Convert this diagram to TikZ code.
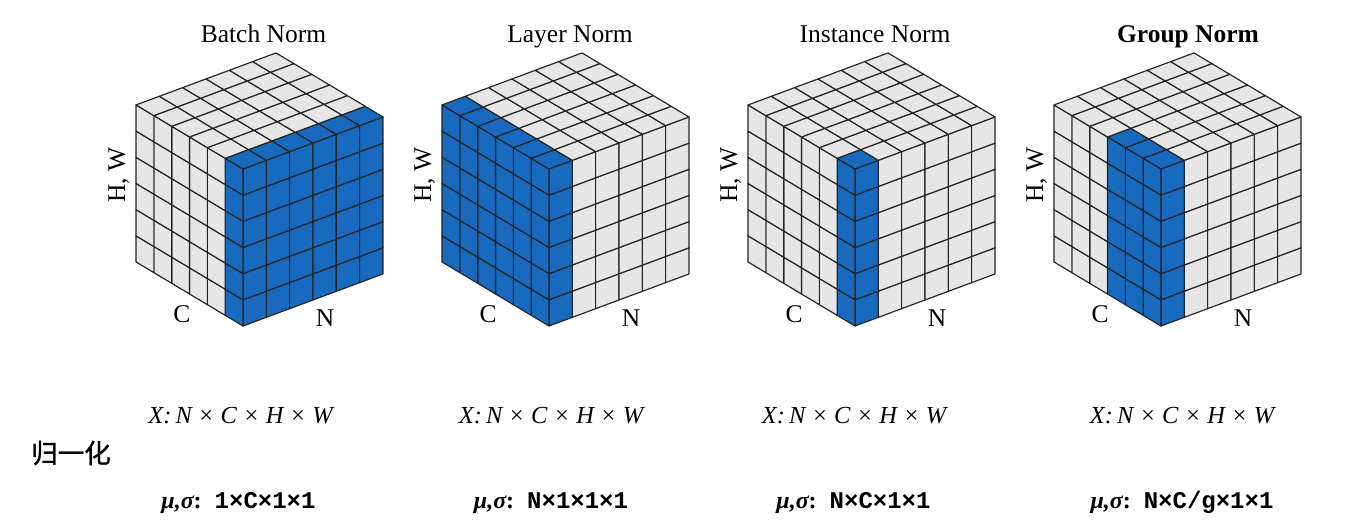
\documentclass[tikz,border=0pt]{standalone}
\usepackage{fontspec}
\setmainfont{Liberation Serif}
\setmonofont{Liberation Mono}
\newfontfamily\cjk{Noto Sans CJK SC}[FakeBold=1]
\definecolor{nblue}{RGB}{24,106,190}
\definecolor{ngray}{RGB}{230,230,230}
\definecolor{nline}{RGB}{35,35,35}
\tikzset{
  cell/.style={draw=nline, line width=1.15pt, line join=round},
  ttl/.style={font=\fontsize{25.5}{30}\selectfont, anchor=base, inner sep=0pt},
  axl/.style={font=\fontsize{25.5}{30}\selectfont, anchor=base, inner sep=0pt},
  shp/.style={font=\fontsize{24.5}{30}\selectfont\itshape, anchor=base, inner sep=0pt},
  stat/.style={font=\fontsize{24}{30}\selectfont, anchor=base, inner sep=0pt},
}
% #1 = x of front-bottom corner, #2 = number of blue N slices, #3 = number of blue C slices, #4 = name
\newcommand\normcube[4]{%
\begin{scope}[shift={(#1pt,-326pt)}, x={(23.33pt,8.67pt)}, y={(0pt,26.17pt)}, z={(-17.83pt,10.67pt)}]
  % right face (N x H)
  \foreach \i in {0,...,5}{\foreach \k in {0,...,5}{%
    \ifnum\i<#2\relax\def\cc{nblue}\else\def\cc{ngray}\fi
    \path[cell,fill=\cc] (\i,\k,0) -- (\i+1,\k,0) -- (\i+1,\k+1,0) -- (\i,\k+1,0) -- cycle;
  }}
  % left face (C x H)
  \foreach \j in {0,...,5}{\foreach \k in {0,...,5}{%
    \ifnum\j<#3\relax\def\cc{nblue}\else\def\cc{ngray}\fi
    \path[cell,fill=\cc] (0,\k,\j) -- (0,\k,\j+1) -- (0,\k+1,\j+1) -- (0,\k+1,\j) -- cycle;
  }}
  % top face (N x C)
  \foreach \i in {0,...,5}{\foreach \j in {0,...,5}{%
    \def\cc{ngray}\ifnum\i<#2\relax\ifnum\j<#3\relax\def\cc{nblue}\fi\fi
    \path[cell,fill=\cc] (\i,6,\j) -- (\i+1,6,\j) -- (\i+1,6,\j+1) -- (\i,6,\j+1) -- cycle;
  }}
\end{scope}
\node[axl, rotate=90] (hw#4) at (#1pt-118pt,-175pt) {H, W};
\node[axl] (c#4) at (#1pt-61pt,-322pt) {C};
\node[axl] (n#4) at (#1pt+82pt,-326pt) {N};
}
\newcommand\mustat[1]{{\bfseries\itshape μ,σ}{\bfseries:}\hspace{13pt}\texttt{\bfseries #1}}
\begin{document}
\begin{tikzpicture}[x=1pt,y=-1pt]
\useasboundingbox[fill=white] (0,0) rectangle (1352,530);
\normcube{243}{6}{1}{a}
\normcube{549}{1}{6}{b}
\normcube{855}{1}{1}{c}
\normcube{1161}{1}{3}{d}
\node[ttl] (ta) at (263.5,42) {Batch Norm};
\node[ttl] (tb) at (570,42) {Layer Norm};
\node[ttl] (tc) at (875,42) {Instance Norm};
\node[ttl, font=\fontsize{25.5}{30}\selectfont\bfseries] (td) at (1188,42) {Group Norm};
\node[shp] (xa) at (240.5,423) {X:\,N × C × H × W};
\node[shp] (xb) at (551,423) {X:\,N × C × H × W};
\node[shp] (xc) at (854,423) {X:\,N × C × H × W};
\node[shp] (xd) at (1182,423) {X:\,N × C × H × W};
\node[anchor=base, inner sep=0pt, font=\cjk\fontsize{26.5}{30}\selectfont] (gyh) at (71,463) {归一化};
\node[stat] (sa) at (238.5,508) {\mustat{1×C×1×1}};
\node[stat] (sb) at (551,508) {\mustat{N×1×1×1}};
\node[stat] (sc) at (853.5,508) {\mustat{N×C×1×1}};
\node[stat] (sd) at (1182,508) {\mustat{N×C/g×1×1}};
\end{tikzpicture}
\end{document}
